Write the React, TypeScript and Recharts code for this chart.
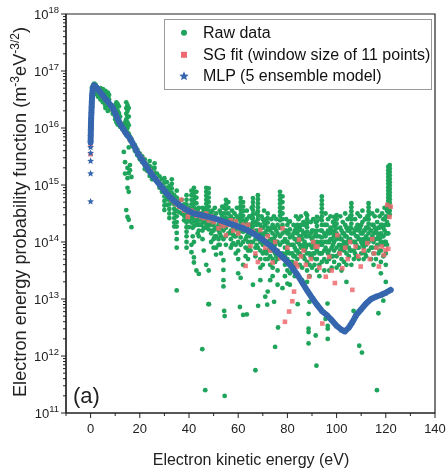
import React from 'react';
import { ScatterChart, Scatter, XAxis, YAxis, Legend, ReferenceArea } from 'recharts';

// energies in eV, values stored as log10 of EEPF (m^-3 eV^-3/2)
type Column = [number, number[]];
type Pt = [number, number];

const FONT = '"Liberation Sans", Arial, sans-serif';
const GREEN = '#1fa45b';
const RED = '#ee6a6e';
const BLUE = '#3566ae';
const INK = '#222';

const xTicks = [-10, 0, 10, 20, 30, 40, 50, 60, 70, 80, 90, 100, 110, 120, 130, 140];
const yDecades = [11, 12, 13, 14, 15, 16, 17];

const seriesNames = ['Raw data', 'SG fit (window size of 11 points)', 'MLP (5 ensemble model)'];

// raw measurements, grouped by energy
const rawPeak: Column[] = [
  [0.5, [16.6, 16.7]],
  [1, [16.75, 16.65]],
  [1.5, [16.78, 16.7]],
  [2, [16.76, 16.68, 16.6]],
  [2.5, [16.72]],
  [3, [16.7, 16.62, 16.55]],
  [3.5, [16.66]],
  [4, [16.7, 16.6, 16.5]],
  [4.5, [16.64, 16.55]],
  [5, [16.68, 16.58, 16.5, 16.45]],
  [5.5, [16.6]],
  [6, [16.65, 16.55, 16.48, 16.4, 16.35]],
  [6.5, [16.62]],
  [7, [16.62, 16.55, 16.45, 16.38, 16.3]],
  [7.5, [16.58, 16.5]],
  [8, [16.4, 16.33]],
  [9, [16.3, 16.25]],
  [10, [16.4, 16.3, 16.2, 16.15]],
  [10.5, [16.45, 16.35, 16.25, 16.18, 16.1]],
  [11, [16.42, 16.3, 16.2, 16.12, 16.06]],
  [11.5, [16.38, 16.26, 16.15]],
  [12, [16.2, 16.1, 16.02]],
  [13, [16.05, 15.98]],
  [13.5, [15.58]],
  [14, [16.1, 15.95, 15.4, 15.2]],
  [14.5, [16.45, 16.35, 16.25, 16.15, 16.05, 15.95, 15.88, 14.56]],
  [15, [16.4, 16.3, 16.2, 16.1, 16.0, 15.92, 15.3, 15.12, 14.95, 14.44]],
  [15.5, [16.35, 16.2, 16.05, 15.9, 15.66, 15.21, 14.88, 14.39]],
  [16, [15.85, 15.78, 15.35, 15.26]],
  [16.6, [15.8, 15.14, 14.26]],
];

const rawDecay: Column[] = [
  [17, [15.75, 15.68]],
  [18, [15.7, 15.6]],
  [19, [15.62, 15.52]],
  [20, [15.55, 15.45]],
  [21, [15.5, 15.4]],
  [22, [15.45, 15.36, 15.28]],
  [23, [15.35, 15.25]],
  [24, [15.42, 15.33, 15.24, 15.16]],
  [25, [15.3, 15.18, 15.1]],
  [26, [15.38, 15.3, 15.22, 15.12]],
  [27, [15.2, 15.05]],
  [28, [15.15, 15.0, 14.95]],
  [29, [15.1, 14.98, 14.88]],
  [30, [15.12, 15.04, 14.96, 14.88, 14.8, 14.72, 14.64, 14.56]],
  [31, [15.05, 14.95, 14.85, 14.75, 14.65]],
  [32, [14.98, 14.9, 14.82, 14.74, 14.66, 14.58, 14.5, 14.42]],
  [33, [15.1, 15.02, 14.94, 14.86, 14.78, 14.7]],
  [34, [14.82, 14.74, 14.66, 14.58, 14.5, 14.42, 14.34, 14.27]],
  [35, [14.9, 14.78, 14.66, 14.55, 14.45, 14.35, 14.27, 14.16, 14.05, 13.9, 13.15]],
  [36, [14.72, 14.62, 14.52]],
  [37, [14.74, 14.62, 14.5]],
  [38, [14.66, 14.56, 14.46, 14.38]],
  [39, [14.82, 14.74, 14.66, 14.58, 14.5, 14.42, 14.34, 14.26, 14.18, 14.1, 14.0, 13.9]],
  [40, [14.6, 14.48, 14.38, 14.26]],
];

const rawPlateau: Column[] = [
  [41, [14.9, 14.82, 14.74, 14.66, 14.58, 14.5, 14.42, 14.34, 13.95, 13.82]],
  [42, [14.95, 14.88, 14.81, 14.74, 14.67, 14.6, 14.52, 14.44, 14.36, 14.28, 14.0, 13.73, 13.64]],
  [43, [14.88, 14.78, 14.68, 14.58, 14.48, 14.38, 14.3, 13.5]],
  [44, [14.6, 14.5, 14.4, 14.3, 14.2, 14.1, 13.44]],
  [45, [14.5, 14.4, 14.3]],
  [46, [14.55, 14.45, 14.35, 14.25, 13.85]],
  [47, [14.95, 14.88, 14.81, 14.74, 14.67, 14.6, 14.53, 14.46, 14.39, 14.32, 14.25, 13.6]],
  [48, [14.94, 14.86, 14.78, 14.7, 14.62, 14.54, 14.46, 14.38, 14.3, 14.22, 13.5]],
  [49, [14.5, 14.4, 14.3, 14.15, 14.0]],
  [50, [14.45, 14.32, 14.2, 14.05, 13.9]],
  [51, [14.5, 14.4, 14.25, 14.1, 13.9, 13.78]],
  [52, [14.4, 14.3, 14.2, 14.05, 13.95]],
  [53, [14.5, 14.35, 14.25, 14.1, 13.8]],
  [54, [14.6, 14.5, 14.4, 14.3, 14.2, 14.05, 13.68, 13.51, 13.33, 13.22]],
  [55, [14.74, 14.66, 14.58, 14.5, 14.42, 14.34, 14.25, 14.1, 13.95]],
  [56, [14.7, 14.6, 14.5, 14.4, 14.3, 14.15]],
  [57, [14.45, 14.3, 14.2, 14.05, 13.9]],
  [58, [14.4, 14.25, 14.12, 13.98]],
  [59, [14.35, 14.22, 14.1, 13.95, 13.8]],
  [60, [14.4, 14.28, 14.15, 14.0, 13.85, 13.7, 13.45]],
  [61, [14.77, 14.7, 14.63, 14.56, 14.49, 14.42, 14.35, 14.28, 14.2, 14.08, 13.95, 13.37]],
  [62, [14.7, 14.62, 14.54, 14.46, 14.38, 14.3, 14.18, 14.0, 13.6]],
  [63, [14.35, 14.2, 14.05, 13.9, 13.75]],
  [64, [14.3, 14.15, 14.0, 13.85, 13.7]],
  [65, [14.45, 14.3, 14.15, 14.0, 13.85]],
  [66, [14.77, 14.7, 14.63, 14.56, 14.49, 14.42, 14.35, 14.28, 14.15, 14.0, 13.25]],
  [67, [14.35, 14.2, 14.05, 13.9, 13.75]],
  [68, [14.82, 14.75, 14.68, 14.61, 14.54, 14.47, 14.4, 14.32, 14.2, 14.05, 13.9]],
  [69, [14.3, 14.15, 14.0, 13.85, 13.7, 13.55, 13.33]],
  [70, [14.4, 14.25, 14.1, 13.95, 13.8, 13.6]],
  [71, [14.3, 14.15, 14.0, 13.85, 13.7, 13.04]],
  [72, [14.5, 14.42, 14.34, 14.25, 14.12, 14.0, 13.85, 13.7, 13.13]],
  [73, [14.2, 14.05, 13.9, 13.75, 13.6, 13.33]],
  [74, [14.3, 14.15, 14.0, 13.85, 13.7, 13.55, 13.4]],
  [75, [14.25, 14.1, 13.95, 13.8, 13.65]],
  [76, [14.3, 14.15, 14.0, 13.85, 13.7, 13.5, 13.25]],
  [77, [14.88, 14.81, 14.74, 14.67, 14.6, 14.53, 14.46, 14.38, 14.25, 14.1, 13.95]],
  [78, [14.8, 14.7, 14.6, 14.5, 14.4, 14.3, 14.15, 14.0, 13.8, 13.19]],
  [79, [14.2, 14.05, 13.9, 13.75, 13.6, 13.4]],
  [80, [14.3, 14.15, 14.0, 13.85, 13.7, 13.5, 13.27]],
];

const rawTail: Column[] = [
  [81, [14.36, 14.22, 14.08, 13.95, 13.8, 13.65, 13.45, 13.25]],
  [82, [14.1, 13.95, 13.8, 13.65, 13.5]],
  [83, [14.2, 14.05, 13.9, 13.75, 13.6, 13.4]],
  [84, [14.3, 14.15, 14.0, 13.85, 13.7]],
  [85, [14.25, 14.1, 13.95, 13.8, 13.6]],
  [86, [14.2, 14.05, 13.9, 13.75, 13.55, 13.33]],
  [87, [14.3, 14.15, 14.0, 13.85, 13.7]],
  [88, [14.47, 14.4, 14.33, 14.26, 14.18, 14.1, 13.95, 13.8, 13.65, 13.5, 13.3]],
  [89, [14.1, 13.95, 13.8, 13.6, 13.4, 12.95]],
  [90, [14.2, 14.05, 13.9, 13.72, 13.55]],
  [91, [14.1, 13.95, 13.8, 13.6]],
  [92, [14.44, 14.36, 14.28, 14.2, 14.1, 14.0, 13.85, 13.7, 13.5]],
  [93, [14.1, 13.95, 13.8, 13.6, 13.4]],
  [94, [14.8, 14.73, 14.66, 14.59, 14.52, 14.45, 14.38, 14.3, 14.2, 14.08, 13.95, 13.8, 13.65]],
  [95, [14.3, 14.15, 14.0, 13.85, 13.7, 13.5]],
  [96, [14.3, 14.15, 14.0, 13.85, 13.65]],
  [97, [14.15, 14.0, 13.85, 13.7, 13.5]],
  [98, [14.2, 14.05, 13.9, 13.75, 13.55]],
  [99, [14.44, 14.36, 14.28, 14.2, 14.1, 14.0, 13.85, 13.65]],
  [100, [14.47, 14.4, 14.32, 14.24, 14.15, 14.05, 13.9, 13.75, 13.55]],
  [101, [14.1, 13.95, 13.8, 13.6]],
  [102, [14.2, 14.05, 13.9, 13.7, 13.5]],
  [103, [14.15, 14.0, 13.85, 13.65]],
  [104, [14.25, 14.1, 13.95, 13.8, 13.6, 13.3]],
  [105, [14.2, 14.05, 13.9, 13.75]],
  [106, [14.68, 14.61, 14.54, 14.47, 14.4, 14.32, 14.24, 14.15, 14.0, 13.85, 13.6]],
  [107, [14.15, 14.0, 13.85, 13.7]],
  [108, [14.25, 14.1, 13.95, 13.75]],
  [109, [14.2, 14.05, 13.9, 13.7]],
  [110, [14.3, 14.15, 14.0, 13.8]],
  [111, [14.2, 14.05, 13.9, 13.7]],
  [112, [14.4, 14.25, 14.1, 13.95, 13.75]],
  [113, [14.68, 14.61, 14.54, 14.47, 14.4, 14.32, 14.24, 14.15, 14.0, 13.85]],
  [114, [14.2, 14.05, 13.9, 13.7]],
  [115, [14.3, 14.15, 14.0, 13.8, 13.6]],
  [116, [14.2, 14.05, 13.9, 13.7]],
  [117, [14.25, 14.1, 13.95, 13.8]],
  [118, [14.3, 14.15, 14.0, 13.85, 13.65, 13.45]],
  [119, [14.4, 14.25, 14.1, 13.95, 13.75]],
  [120, [14.45, 14.3, 14.15, 14.0, 13.8, 13.6, 13.3]],
  [121, [15.32, 15.26, 15.2, 15.14, 15.08, 15.02, 14.96, 14.9, 14.84, 14.78, 14.72, 14.66, 14.6, 14.52, 14.44, 14.3, 14.15]],
  [121.6, [15.35, 15.29, 15.23, 15.17, 15.11, 15.05, 14.99, 14.93, 14.87, 14.81, 14.75, 14.69, 14.62, 14.55, 14.48]],
];

// second sweep, between the main columns
const rawSweep2: Column[] = [
  [41.5, [14.45, 14.25, 14.1]], [43.5, [14.55, 14.35, 14.15]], [45.5, [14.6, 14.35, 14.2, 14.05]],
  [49.5, [14.55, 14.35, 14.2]], [50.5, [14.6, 14.4, 14.25, 14.1]], [52.5, [14.55, 14.35, 14.15, 13.95]],
  [53.5, [14.62, 14.45, 14.3]], [57.5, [14.55, 14.35, 14.15, 13.95]], [58.5, [14.5, 14.3, 14.1]],
  [59.5, [14.6, 14.45, 14.28]], [63.5, [14.55, 14.4, 14.25, 14.1]], [64.5, [14.45, 14.3, 14.1, 13.9]],
  [65.5, [14.6, 14.42, 14.25]], [67.5, [14.5, 14.3, 14.1, 13.95]], [69.5, [14.45, 14.25, 14.05]],
  [70.5, [14.55, 14.35, 14.15, 13.98]], [71.5, [14.4, 14.2, 14.0, 13.8]], [73.5, [14.4, 14.25, 14.05, 13.85]],
  [74.5, [14.45, 14.25, 14.05]], [75.5, [14.4, 14.2, 14.0, 13.75]], [79.5, [14.4, 14.2, 14.0, 13.8]],
  [80.5, [14.35, 14.15, 13.95]], [82.5, [14.3, 14.15, 13.95, 13.75]], [83.5, [14.45, 14.25, 14.05, 13.85]],
  [84.5, [14.4, 14.2, 14.0, 13.8]], [85.5, [14.45, 14.3, 14.1, 13.9]], [86.5, [14.35, 14.15, 13.95, 13.75]],
  [87.5, [14.5, 14.3, 14.1, 13.9]], [89.5, [14.35, 14.15, 13.95, 13.75]], [90.5, [14.4, 14.2, 14.0, 13.8]],
  [91.5, [14.35, 14.15, 13.9, 13.7]], [93.5, [14.4, 14.2, 14.0, 13.8]], [95.5, [14.5, 14.3, 14.1, 13.9]],
  [96.5, [14.4, 14.2, 14.0, 13.8]], [97.5, [14.45, 14.25, 14.05]], [98.5, [14.35, 14.15, 13.95, 13.75]],
  [101.5, [14.45, 14.25, 14.05, 13.85]], [102.5, [14.35, 14.15, 13.95]], [103.5, [14.5, 14.3, 14.1, 13.9]],
  [104.5, [14.4, 14.2, 14.0]], [105.5, [14.45, 14.25, 14.05, 13.85]], [107.5, [14.4, 14.2, 14.0, 13.8]],
  [108.5, [14.5, 14.3, 14.1, 13.9]], [109.5, [14.45, 14.25, 14.05]], [110.5, [14.55, 14.35, 14.15, 13.95]],
  [111.5, [14.4, 14.2, 14.0, 13.8]], [112.5, [14.45, 14.25, 14.05]], [114.5, [14.5, 14.3, 14.1, 13.9]],
  [115.5, [14.45, 14.25, 14.05]], [116.5, [14.55, 14.35, 14.15, 13.95]], [117.5, [14.45, 14.25, 14.05, 13.85]],
  [118.5, [14.5, 14.3, 14.1]], [119.5, [14.6, 14.4, 14.2, 14.0]], [120.5, [14.55, 14.35, 14.15, 13.95]],
];

const rawOutliers: Pt[] = [
  [45.4, 12.12], [46.6, 11.4], [48.1, 12.91], [47.9, 12.91], [54.3, 12.79], [54.5, 12.7], [54.5, 11.3],
  [60.7, 12.86], [62, 12.72], [63.5, 12.73], [67, 11.75], [68.1, 12.88], [71.8, 12.9], [74.6, 12.95],
  [75, 12.16], [76.2, 12.5], [84.2, 12.91], [88.6, 12.74], [88.6, 12.48], [88.6, 12.42], [88.6, 12.22],
  [91.5, 12.36], [91.8, 11.83], [96.3, 12.92], [95.5, 12.65], [96.4, 12.53], [96.4, 12.48], [96.4, 12.3],
  [106.9, 12.79], [109.2, 12.18], [110.3, 12.06], [116.4, 11.4], [117, 12.75], [119, 12.97],
];

// Savitzky-Golay smoothed curve
const sgFit: Pt[] = [
  [0, 15.54], [0, 15.7], [0.3, 16.0], [0.6, 16.4], [1, 16.7], [2, 16.72], [3, 16.68], [4, 16.62],
  [5, 16.56], [6, 16.5], [7, 16.45], [8, 16.4], [9, 16.33], [10, 16.25], [11, 16.15], [12, 16.08],
  [13, 16.0], [14, 15.93], [15, 15.88], [16, 15.8], [17, 15.72], [18, 15.66], [19, 15.57], [20, 15.52],
  [21, 15.46], [22, 15.38], [23, 15.3], [24, 15.26], [25, 15.2], [26, 15.13], [27, 15.08], [28, 15.02],
  [29, 14.95], [30, 14.9], [31, 14.85], [32, 14.8], [33, 14.74], [34, 14.7], [35, 14.66], [36, 14.62],
  [36.8, 14.74], [37, 14.6], [38, 14.55], [39, 14.58], [39.5, 14.44], [40, 14.5], [41, 14.55], [42, 14.52],
  [43, 14.46], [44, 14.5], [45, 14.44], [46, 14.42], [47, 14.5], [48, 14.38], [49, 14.45], [50, 14.35],
  [51, 14.4], [52, 14.24], [53, 14.33], [54, 14.28], [55, 14.12], [56, 14.3], [57, 14.38], [58, 14.2],
  [59, 14.36], [60, 14.15], [61, 14.25], [62, 14.3], [63, 13.58], [64, 14.3], [65, 13.93], [66, 14.18],
  [67, 13.8], [68, 13.65], [69, 14.21], [70, 14.05], [71, 13.9], [72, 14.1], [73, 13.85], [74, 13.64],
  [75, 14.0], [76, 13.83], [77, 13.72], [78, 14.24], [79, 12.6], [80, 13.9], [80.7, 12.78], [82, 12.96],
  [82.7, 13.13], [83.4, 13.63], [84, 13.57], [84.7, 14.04], [85.5, 13.75], [86.5, 13.85], [87.5, 13.6],
  [88.8, 13.39], [89.5, 13.7], [90.5, 14.0], [91.5, 13.92], [92.2, 13.92], [93, 13.55], [94.2, 12.57],
  [95.6, 13.39], [97, 13.74], [98, 13.5], [99.3, 13.28], [100.3, 14.12], [101.3, 13.8], [102.3, 13.54],
  [103.5, 13.9], [104.5, 13.7], [105.5, 14.0], [106.4, 13.16], [107.7, 13.92], [108.8, 13.75],
  [109.8, 13.57], [111, 13.85], [112.5, 13.98], [113.5, 13.7], [114.5, 14.05], [115.2, 13.8],
  [116.2, 13.9], [117.2, 13.57], [118.3, 13.92], [119.2, 13.77], [119.9, 13.86], [120.6, 14.65],
  [121, 13.88], [121.5, 14.44], [122, 14.62],
];

// MLP ensemble prediction
const mlpRise: Pt[] = [[0, 14.71], [0, 15.2], [0, 15.42], [0, 15.56], [0, 15.66]];

const mlpCurve: Pt[] = [
  [0, 15.75], [0.05, 15.85], [0.1, 15.95], [0.15, 16.05], [0.2, 16.15], [0.3, 16.25], [0.4, 16.35],
  [0.5, 16.45], [0.6, 16.55], [0.8, 16.64], [1.0, 16.71], [1.4, 16.75], [2, 16.73], [3, 16.68],
  [4, 16.62], [5, 16.57], [6, 16.51], [7, 16.46], [8, 16.41], [9, 16.35], [10, 16.26], [11, 16.16],
  [12, 16.07], [13, 16.0], [14, 15.93], [15, 15.87], [16, 15.82], [17, 15.74], [18, 15.66], [19, 15.57],
  [20, 15.5], [22, 15.37], [24, 15.24], [26, 15.12], [28, 15.01], [30, 14.9], [32, 14.8], [34, 14.72],
  [36, 14.65], [38, 14.59], [40, 14.54], [42, 14.5], [44, 14.48], [46, 14.46], [48, 14.44], [50, 14.42],
  [52, 14.39], [54, 14.36], [56, 14.33], [58, 14.3], [60, 14.27], [62, 14.24], [64, 14.2], [66, 14.15],
  [68, 14.1], [70, 14.04], [72, 13.97], [74, 13.9], [76, 13.82], [78, 13.74], [80, 13.65], [82, 13.55],
  [84, 13.43], [86, 13.29], [88, 13.15], [90, 13.02], [92, 12.9], [94, 12.79], [96, 12.72], [98, 12.63],
  [100, 12.53], [102, 12.46], [103.4, 12.43], [105, 12.5], [106.5, 12.6], [108, 12.72], [110, 12.82],
  [112, 12.92], [114, 13.0], [116, 13.04], [118, 13.07], [120, 13.11], [122, 13.16],
];

const fromColumns = (cols: Column[]) => cols.flatMap(([x, ls]) => ls.map((l) => ({ x, y: 10 ** l })));
const fromPts = (pts: Pt[]) => pts.map(([x, l]) => ({ x, y: 10 ** l }));

const rawData = [
  ...fromColumns(rawPeak),
  ...fromColumns(rawDecay),
  ...fromColumns(rawPlateau),
  ...fromColumns(rawTail),
  ...fromColumns(rawSweep2),
  ...fromPts(rawOutliers),
];

const yTicks = [...yDecades.flatMap((d) => [1, 2, 3, 4, 5, 6, 7, 8, 9].map((m) => m * 10 ** d)), 1e18];

const starPath = (cx: number, cy: number, r: number) => {
  const pts: string[] = [];
  for (let i = 0; i < 10; i++) {
    const rad = i % 2 === 0 ? r : r * 0.45;
    const a = -Math.PI / 2 + (i * Math.PI) / 5;
    pts.push(`${(cx + rad * Math.cos(a)).toFixed(2)},${(cy + rad * Math.sin(a)).toFixed(2)}`);
  }
  return `M${pts.join('L')}Z`;
};

const Dot = (p: any) => <circle cx={p.cx} cy={p.cy} r={2.4} fill={GREEN} />;
const Square = (p: any) => <rect x={p.cx - 2.3} y={p.cy - 2.3} width={4.6} height={4.6} fill={RED} fillOpacity={0.85} />;
const Star = (p: any) => <path d={starPath(p.cx, p.cy, 3.6)} fill={BLUE} />;

const YTick = ({ x, y, payload }: any) => {
  const lg = Math.log10(payload.value);
  const e = Math.round(lg);
  const major = Math.abs(lg - e) < 1e-6;
  return (
    <g>
      <line x1={x} x2={x - (major ? 5 : 3)} y1={y} y2={y} stroke={INK} strokeWidth={1} />
      {major && (
        <text x={x - 7} y={y + 4.5} textAnchor="end" fontSize={13} fill={INK} fontFamily={FONT}>
          10<tspan dy={-6} fontSize={9.5}>{e}</tspan>
        </text>
      )}
    </g>
  );
};

const XTick = ({ x, y, payload }: any) => {
  const major = payload.value % 20 === 0;
  return (
    <g>
      <line x1={x} x2={x} y1={y} y2={y + (major ? 5 : 3)} stroke={INK} strokeWidth={1} />
      {major && (
        <text x={x} y={y + 20} textAnchor="middle" fontSize={13} fill={INK} fontFamily={FONT}>
          {payload.value}
        </text>
      )}
    </g>
  );
};

const LegendBox = () => (
  <div
    style={{
      position: 'relative',
      width: 268,
      height: 71,
      border: '1px solid #9a9a9a',
      boxSizing: 'border-box',
      background: '#fff',
      fontFamily: FONT,
      fontSize: 16,
      color: '#111',
    }}
  >
    {seriesNames.map((name, i) => (
      <div key={name} style={{ position: 'absolute', left: 0, top: 2 + i * 21.7, height: 21.7, display: 'flex', alignItems: 'center', whiteSpace: 'nowrap' }}>
        <svg width={38} height={21.7}>
          {i === 0 && <circle cx={19} cy={10.8} r={3} fill={GREEN} />}
          {i === 1 && <rect x={16} y={7.8} width={6} height={6} fill={RED} />}
          {i === 2 && <path d={starPath(19, 11.2, 5)} fill={BLUE} />}
        </svg>
        <span>{name}</span>
      </div>
    ))}
  </div>
);

export default function App() {
  return (
    <div style={{ position: 'fixed', top: 2, left: 8 }}>
      <ScatterChart width={438} height={470} margin={{ top: 12, right: 11, bottom: 0, left: 0 }} style={{ fontFamily: FONT }}>
        <XAxis
          type="number"
          dataKey="x"
          domain={[-10, 140]}
          ticks={xTicks}
          interval={0}
          allowDataOverflow
          height={59}
          tickSize={0}
          tickMargin={0}
          tickLine={false}
          axisLine={{ stroke: INK, strokeWidth: 1.2 }}
          tick={<XTick />}
        />
        <YAxis
          type="number"
          dataKey="y"
          scale="log"
          domain={[1e11, 1e18]}
          ticks={yTicks}
          interval={0}
          allowDataOverflow
          width={58}
          tickSize={0}
          tickMargin={0}
          tickLine={false}
          axisLine={{ stroke: INK, strokeWidth: 1.2 }}
          tick={<YTick />}
        />
        <ReferenceArea x1={-10} x2={140} y1={1e11} y2={1e18} fill="none" stroke={INK} strokeWidth={1.2} />
        <Scatter name={seriesNames[0]} data={rawData} shape={Dot} isAnimationActive={false} />
        <Scatter name={seriesNames[1]} data={fromPts(sgFit)} shape={Square} isAnimationActive={false} />
        <Scatter name={seriesNames[2]} data={fromPts(mlpRise)} shape={Star} isAnimationActive={false} />
        <Scatter
          name="MLP curve"
          legendType="none"
          data={fromPts(mlpCurve)}
          shape={Star}
          line={{ stroke: BLUE, strokeWidth: 6, strokeLinejoin: 'round', strokeLinecap: 'round' }}
          isAnimationActive={false}
        />
        <Legend layout="vertical" align="center" verticalAlign="middle" wrapperStyle={{ left: 156, top: 17, width: 268 }} content={LegendBox} />
        <text x={65} y={401} fontSize={22} fill={INK} fontFamily={FONT}>(a)</text>
        <text x={243} y={463} textAnchor="middle" fontSize={16} fill={INK} fontFamily={FONT}>
          Electron kinetic energy (eV)
        </text>
        <text transform="translate(18, 210) rotate(-90)" textAnchor="middle" fontSize={18.2} fill={INK} fontFamily={FONT}>
          Electron energy probability function (m<tspan dy={-7} fontSize={12}>-3</tspan>
          <tspan dy={7}>eV</tspan>
          <tspan dy={-7} fontSize={12}>-3/2</tspan>
          <tspan dy={7}>)</tspan>
        </text>
      </ScatterChart>
    </div>
  );
}
